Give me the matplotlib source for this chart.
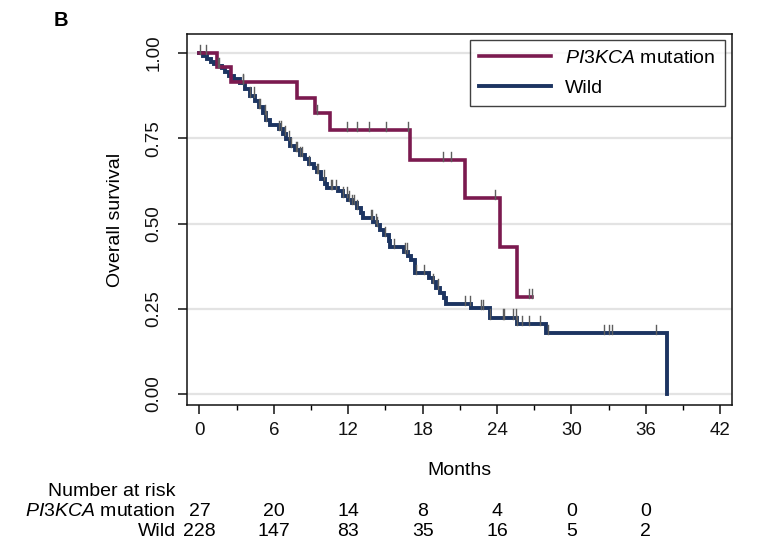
import numpy as np
import matplotlib
matplotlib.use("Agg")
import matplotlib.pyplot as plt
from matplotlib.transforms import blended_transform_factory

plt.rcParams['font.family'] = ['Liberation Sans', 'DejaVu Sans']
plt.rcParams['mathtext.fontset'] = 'custom'
plt.rcParams['mathtext.it'] = 'Liberation Sans:italic'
plt.rcParams['mathtext.rm'] = 'Liberation Sans'

# Kaplan-Meier steps (months, survival)
mut_times = [0, 1.4, 2.53, 7.88, 9.33, 10.54, 17.0, 21.4, 24.2, 25.6, 26.85]
mut_surv = [1.0, 0.958, 0.914, 0.868, 0.823, 0.774, 0.686, 0.574, 0.430, 0.285, 0.285]
mut_censor = [0.06, 0.56, 3.55, 9.5, 11.9, 12.7, 13.7, 15.07, 16.85, 19.67, 20.3,
              23.8, 26.6, 26.85]

wild_times = [0, 0.3, 0.6, 0.9, 1.2, 1.5, 1.8, 2.1, 2.4, 2.8, 3.3, 3.7, 4.1, 4.5,
              4.8, 5.1, 5.4, 5.7, 6.4, 6.7, 7.0, 7.3, 7.7, 8.1, 8.5, 8.8, 9.2, 9.5,
              9.8, 10.1, 10.3, 11.2, 11.6, 12.0, 12.3, 12.7, 13.0, 13.2, 14.0, 14.3,
              14.6, 14.9, 15.3, 15.4, 16.5, 16.8, 17.1, 17.4, 18.5, 18.8, 19.1, 19.4,
              19.7, 19.9, 21.9, 23.4, 25.6, 27.95, 37.7]
wild_surv = [1.0, 0.991, 0.982, 0.974, 0.969, 0.962, 0.956, 0.943, 0.934, 0.925,
             0.912, 0.895, 0.875, 0.860, 0.842, 0.825, 0.805, 0.790, 0.778, 0.763,
             0.748, 0.728, 0.716, 0.700, 0.688, 0.675, 0.664, 0.652, 0.632, 0.616,
             0.605, 0.594, 0.582, 0.570, 0.560, 0.545, 0.530, 0.517, 0.505, 0.495,
             0.482, 0.466, 0.448, 0.430, 0.418, 0.405, 0.392, 0.355, 0.340, 0.328,
             0.312, 0.296, 0.281, 0.264, 0.252, 0.2245, 0.205, 0.178, 0.0]
wild_censor = [1.5, 1.6, 3.5, 4.1, 4.4, 4.8, 4.9, 5.3, 5.4, 6.4, 6.6, 6.9, 7.2, 7.4,
               7.75, 7.9, 8.1, 8.3, 8.8, 9.5, 9.6, 10.05, 10.6, 10.7, 11.0, 11.6,
               11.9, 12.1, 12.3, 12.5, 12.7, 13.8, 13.9, 14.2, 14.3, 15.0, 15.7,
               16.6, 16.7, 17.5, 18.1, 18.8, 19.2, 21.4, 21.8, 22.7, 22.9, 23.4,
               24.5, 24.6, 25.3, 25.5, 25.6, 26.0, 26.6, 27.5, 28.1, 32.6, 33.0,
               33.3, 36.8]

risk_times = [0, 6, 12, 18, 24, 30, 36]
risk_mut = [27, 20, 14, 8, 4, 0, 0]
risk_wild = [228, 147, 83, 35, 16, 5, 2]

col_mut = '#7b1a4f'
col_wild = '#1c3461'


def surv_at(times, surv, t):
    idx = np.searchsorted(times, t, side='right') - 1
    return surv[max(idx, 0)]


fig = plt.figure(figsize=(7.7, 5.44), dpi=100)
ax = fig.add_axes([0.2429, 0.2555, 0.7073, 0.682])

for yv in [0, 0.25, 0.5, 0.75, 1.0]:
    ax.axhline(yv, color='#e3e3e3', lw=1.6, zorder=0)

ax.step(mut_times, mut_surv, where='post', color=col_mut, lw=2.6, zorder=3,
        label='$\\mathit{PI3KCA}$ mutation', solid_joinstyle='miter')
ax.step(wild_times, wild_surv, where='post', color=col_wild, lw=2.8, zorder=2,
        label='Wild', solid_joinstyle='miter')

for t in mut_censor:
    s = surv_at(mut_times, mut_surv, t)
    ax.plot([t, t], [s - 0.003, s + 0.024], color='#5e5e5e', lw=1.0, zorder=4)
for t in wild_censor:
    s = surv_at(wild_times, wild_surv, t)
    ax.plot([t, t], [s - 0.003, s + 0.024], color='#5e5e5e', lw=1.0, zorder=4)

ax.set_xlim(-1.0, 42.92)
ax.set_ylim(-0.032, 1.0557)
ax.set_xticks(range(0, 43, 6))
ax.set_xticks(range(3, 43, 6), minor=True)
ax.set_yticks([0, 0.25, 0.5, 0.75, 1.0])
ax.set_yticklabels(['0.00', '0.25', '0.50', '0.75', '1.00'], rotation=90, va='center')
ax.tick_params(axis='both', which='major', direction='out', length=6.5, width=1.1,
               labelsize=13.5, colors='#111111')
ax.tick_params(axis='x', which='major', pad=6)
ax.tick_params(axis='y', which='major', pad=11)
ax.tick_params(axis='x', which='minor', direction='out', length=3.5, width=1.0)
for sp in ax.spines.values():
    sp.set_linewidth(1.1)
    sp.set_color('#111111')

ax.set_xlabel('Months', fontsize=14, labelpad=16)
ax.set_ylabel('Overall survival', fontsize=14, labelpad=16)

leg = ax.legend(loc='upper right', bbox_to_anchor=(0.988, 0.984), borderaxespad=0,
                fontsize=14, frameon=True, fancybox=False, handlelength=3.7,
                labelspacing=0.6, borderpad=0.5, handletextpad=0.7)
leg.get_frame().set_edgecolor('#111111')
leg.get_frame().set_linewidth(1.0)

fig.text(0.069, 0.963, 'B', fontsize=14.5, fontweight='bold', ha='left', va='center')

trans = blended_transform_factory(ax.transData, fig.transFigure)
row_y = [1 - 492 / 544, 1 - 512 / 544, 1 - 532 / 544]
fig.text(0.228, row_y[0], 'Number at risk', fontsize=14, ha='right', va='center')
fig.text(0.228, row_y[1], '$\\mathit{PI3KCA}$ mutation', fontsize=14, ha='right', va='center')
fig.text(0.228, row_y[2], 'Wild', fontsize=14, ha='right', va='center')
for t, a, b in zip(risk_times, risk_mut, risk_wild):
    ax.text(t, row_y[1], str(a), transform=trans, fontsize=14, ha='center', va='center')
    ax.text(t, row_y[2], str(b), transform=trans, fontsize=14, ha='center', va='center')

fig.savefig('out.png', dpi=100)
